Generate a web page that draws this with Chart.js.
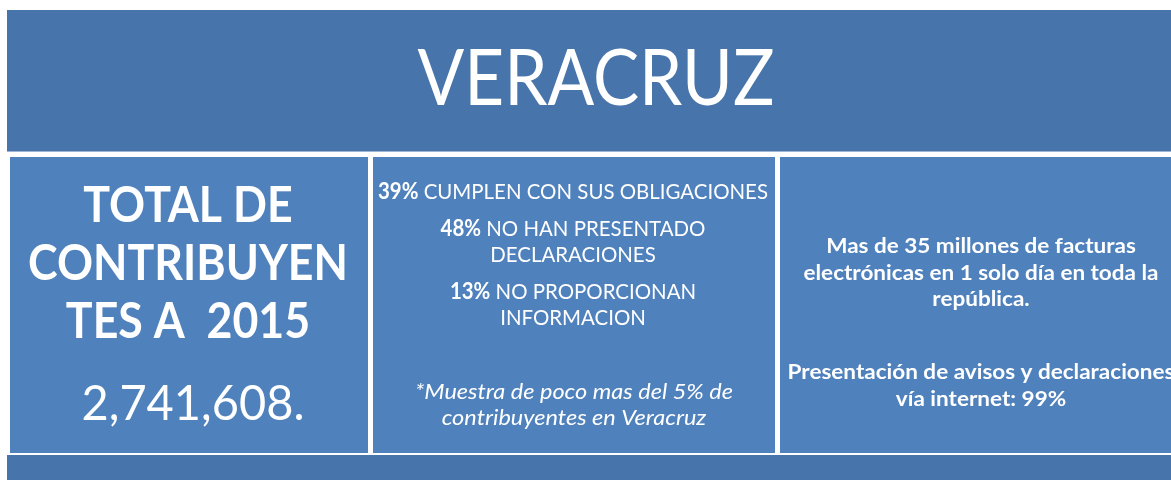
<!DOCTYPE html>
<html>
<head>
<meta charset="utf-8">
<script src="https://cdn.jsdelivr.net/npm/chart.js@4.4.1/dist/chart.umd.min.js"></script>
<style>
  html, body { margin: 0; padding: 0; background: #fff; overflow: hidden; }
  canvas { display: block; }
</style>
</head>
<body>
<canvas id="infoChart" width="1171" height="480"></canvas>
<script>
// Data
const title = "VERACRUZ";
const totalLines = ["TOTAL DE", "CONTRIBUYEN", "TES A  2015"];
const totalContribuyentes = 2741608;
const percents = [39, 48, 13];
const percentLabels = [
  ["CUMPLEN CON SUS OBLIGACIONES"],
  ["NO HAN PRESENTADO", "DECLARACIONES"],
  ["NO PROPORCIONAN", "INFORMACION"]
];
const sampleNote = ["*Muestra de poco mas del 5% de", "contribuyentes en Veracruz"];
const facts = [
  ["Mas de 35 millones de facturas", "electrónicas en 1 solo día en toda la", "república."],
  ["Presentación de avisos y declaraciones", "vía internet: 99%"]
];

// Layout / style
const FONT = "Lato, 'Open Sans', sans-serif";
const DARK = "#4774aa";
const PANEL = "#4f81bd";

function fontOf(p, size) {
  return `${p.style || "normal"} ${p.weight || "normal"} ${size}px ${FONT}`;
}

function measure(ctx, parts, size) {
  return parts.reduce((sum, p) => {
    ctx.font = fontOf(p, size);
    return sum + ctx.measureText(p.text).width;
  }, 0);
}

// horizontal squeeze so that a line of parts gets the wanted width
function fitSqueeze(ctx, parts, size, width) {
  return width / measure(ctx, parts, size);
}

// draw a centered line made of several styled parts
function drawLine(ctx, parts, cx, y, size, squeeze) {
  let total = measure(ctx, parts, size);
  ctx.save();
  ctx.translate(cx, y);
  ctx.scale(squeeze, 1);
  let x = -total / 2;
  parts.forEach(p => {
    ctx.font = fontOf(p, size);
    ctx.fillText(p.text, x, 0);
    x += ctx.measureText(p.text).width;
  });
  ctx.restore();
}

const infographic = {
  id: "infographic",
  beforeDraw(chart) {
    const ctx = chart.ctx;
    ctx.save();
    ctx.fillStyle = "#fff";
    ctx.fillRect(0, 0, 1171, 480);

    // banner + bottom band
    ctx.fillStyle = DARK;
    ctx.fillRect(7, 10, 1164, 141);
    ctx.fillRect(7, 455, 1164, 25);
    ctx.fillStyle = "#9db4d6";
    ctx.fillRect(7, 151, 1164, 1);

    // panels
    ctx.fillStyle = PANEL;
    ctx.fillRect(10, 157, 358, 296);
    ctx.fillRect(373, 157, 402, 296);
    ctx.fillRect(780, 157, 391, 296);

    ctx.fillStyle = "#fff";
    ctx.textAlign = "left";
    ctx.textBaseline = "alphabetic";

    // title
    const titleParts = [{ text: title }];
    drawLine(ctx, titleParts, 596, 105, 77, fitSqueeze(ctx, titleParts, 77, 357));

    // left panel
    const leftY = [222, 280, 338];
    const leftSq = fitSqueeze(ctx, [{ text: totalLines[1], weight: "bold" }], 49, 320);
    totalLines.forEach((t, i) => drawLine(ctx, [{ text: t, weight: "bold" }], 188, leftY[i], 49, leftSq));
    const valueParts = [{ text: totalContribuyentes.toLocaleString("en-US") + "." }];
    drawLine(ctx, valueParts, 193, 420, 49, fitSqueeze(ctx, valueParts, 49, 223));

    // middle panel
    const midY = [[199], [236, 262], [299, 325]];
    const midSq = fitSqueeze(ctx, [{ text: percents[0] + "%", weight: "bold" }, { text: " " + percentLabels[0][0] }], 22, 390);
    percents.forEach((p, i) => {
      percentLabels[i].forEach((label, j) => {
        const parts = j === 0
          ? [{ text: p + "%", weight: "bold" }, { text: " " + label }]
          : [{ text: label }];
        drawLine(ctx, parts, 573, midY[i][j], 22, midSq);
      });
    });
    const noteY = [399, 425];
    const noteSq = fitSqueeze(ctx, [{ text: sampleNote[0], style: "italic" }], 22, 318);
    sampleNote.forEach((t, i) => drawLine(ctx, [{ text: t, style: "italic" }], 574, noteY[i], 22, noteSq));

    // right panel
    const factY = [[253, 280, 306], [379, 406]];
    const factSq = fitSqueeze(ctx, [{ text: facts[0][1], weight: "bold" }], 20, 355);
    facts.forEach((block, i) => {
      block.forEach((t, j) => drawLine(ctx, [{ text: t, weight: "bold" }], 981, factY[i][j], 20, factSq));
    });
    ctx.restore();
  }
};

new Chart(document.getElementById("infoChart"), {
  type: "bar",
  data: { labels: [], datasets: [] },
  options: {
    responsive: false,
    devicePixelRatio: 1,
    animation: false,
    plugins: { legend: { display: false }, tooltip: { enabled: false } },
    scales: { x: { display: false }, y: { display: false } }
  },
  plugins: [infographic]
});
</script>
</body>
</html>
